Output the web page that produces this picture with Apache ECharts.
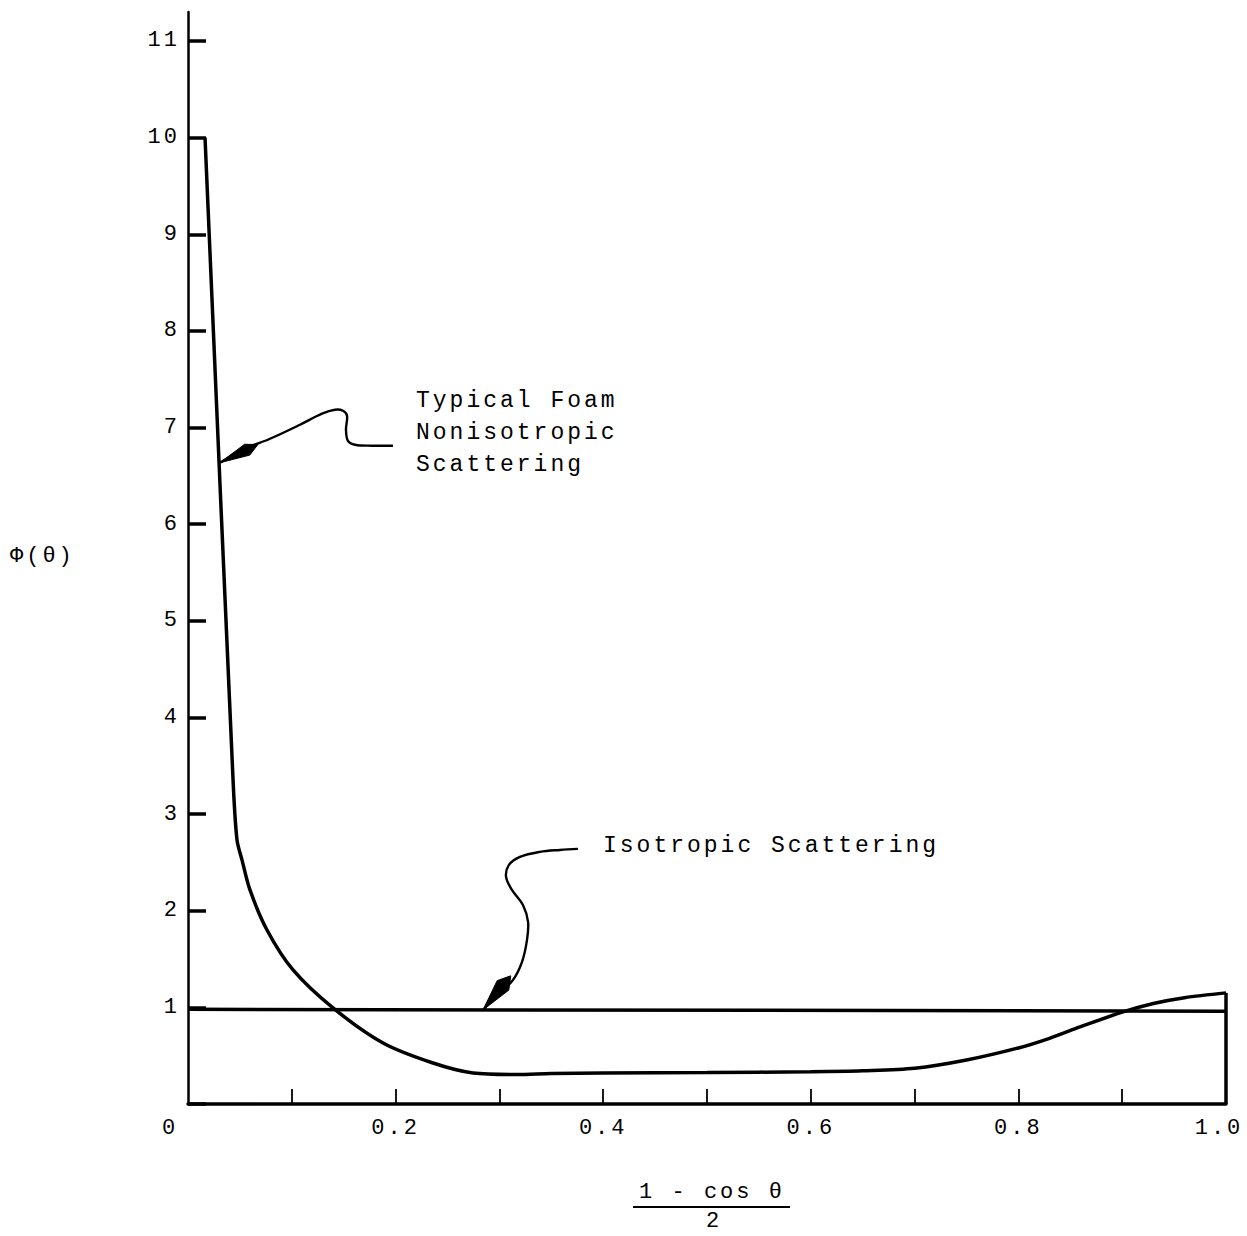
<!DOCTYPE html>
<html>
<head>
<meta charset="utf-8">
<title>Phase function: foam vs isotropic scattering</title>
<script src="https://cdn.jsdelivr.net/npm/echarts@6/dist/echarts.min.js"></script>
<style>
  html, body { margin: 0; padding: 0; background: #fff; }
  #chart { width: 1247px; height: 1236px; }
  /* typewriter-like spacing for all chart text */
  #chart text { letter-spacing: 3px; }
</style>
</head>
<body>
<div id="chart"></div>
<script>
// Typical foam (nonisotropic) phase function vs (1 - cos θ)/2
const xCurve = [0.0164, 0.0434, 0.0472, 0.0520, 0.0597, 0.0761, 0.1012, 0.1397, 0.1879, 0.2360,
                0.2746, 0.3170, 0.35, 0.40, 0.50, 0.60, 0.65, 0.70, 0.75, 0.80,
                0.83, 0.86, 0.90, 0.93, 0.96, 1.0];
const yCurve = [10.0, 3.354, 2.733, 2.526, 2.215, 1.801, 1.387, 0.994, 0.631, 0.424,
                0.321, 0.305, 0.315, 0.32, 0.325, 0.335, 0.345, 0.37, 0.455, 0.58,
                0.68, 0.80, 0.95, 1.04, 1.10, 1.15];

// Isotropic scattering line
const isoX = [0, 1];
const isoY = [0.98, 0.96];

// Closing edge of the foam curve at the right end of the range
const edgeX = [1.0, 1.0];
const edgeY = [0, 1.15];

// Axis ticks and labels
const yTicks = [0, 1, 2, 3, 4, 5, 6, 7, 8, 9, 10, 11];
const yLabels = [1, 2, 3, 4, 5, 6, 7, 8, 9, 10, 11];
const xTicks = [0.1, 0.2, 0.3, 0.4, 0.5, 0.6, 0.7, 0.8, 0.9];
const xLabels = [0, 0.2, 0.4, 0.6, 0.8, 1.0];

// Leader lines, listed from the arrow tip outwards (axis units)
const foamLeaderX = [0.0308, 0.0549, 0.0790, 0.1079, 0.1291, 0.1416, 0.1493, 0.1532, 0.1522, 0.1541, 0.1609, 0.1773, 0.1975];
const foamLeaderY = [6.636, 6.781, 6.884, 7.029, 7.143, 7.184, 7.174, 7.122, 6.977, 6.863, 6.822, 6.812, 6.812];
const isoLeaderX = [0.2842, 0.2977, 0.3131, 0.3218, 0.3266, 0.3276, 0.3227, 0.3121, 0.3064, 0.3092, 0.3198, 0.3391, 0.3584, 0.3757];
const isoLeaderY = [0.973, 1.128, 1.284, 1.470, 1.698, 1.884, 2.060, 2.215, 2.350, 2.474, 2.557, 2.609, 2.629, 2.640];

const leaders = [
  { x: foamLeaderX, y: foamLeaderY },
  { x: isoLeaderX, y: isoLeaderY }
];
// arrowhead shape (pixels) per leader
const heads = [
  { len: 42, half: 6 },
  { len: 44, half: 7.5 }
];

const FONT = '"Liberation Mono", "DejaVu Sans Mono", monospace';
const INK = '#000';

function zip(a, b) { return a.map((v, i) => [v, b[i]]); }

function renderLeader(params, api) {
  const L = leaders[params.dataIndex];
  const H = heads[params.dataIndex];
  const pts = L.x.map((x, i) => api.coord([x, L.y[i]]));
  const tip = pts[0];
  let ref = pts[pts.length - 1];
  for (let i = 1; i < pts.length; i++) {
    if (Math.hypot(pts[i][0] - tip[0], pts[i][1] - tip[1]) >= H.len) { ref = pts[i]; break; }
  }
  const d = Math.hypot(ref[0] - tip[0], ref[1] - tip[1]) || 1;
  const ux = (ref[0] - tip[0]) / d, uy = (ref[1] - tip[1]) / d;
  const nx = -uy, ny = ux;
  const m = 0.72 * H.len;
  const head = [
    tip,
    [tip[0] + ux * m + nx * H.half, tip[1] + uy * m + ny * H.half],
    [tip[0] + ux * H.len, tip[1] + uy * H.len],
    [tip[0] + ux * m - nx * H.half, tip[1] + uy * m - ny * H.half]
  ];
  return {
    type: 'group',
    children: [
      { type: 'polyline', shape: { points: pts, smooth: 0.35 },
        style: { stroke: INK, lineWidth: 2.4, fill: null } },
      { type: 'polygon', shape: { points: head },
        style: { fill: INK, stroke: INK, lineWidth: 1 } }
    ]
  };
}

const chart = echarts.init(document.getElementById('chart'), null, { renderer: 'svg' });

chart.setOption({
  backgroundColor: '#fff',
  animation: false,
  grid: { left: 188, right: 21, top: 12, bottom: 132, containLabel: false, outerBoundsMode: 'none' },
  xAxis: {
    type: 'value', min: 0, max: 1, interval: 0.1,
    axisLine: { show: true, lineStyle: { color: INK, width: 3.5 } },
    axisTick: { show: true, inside: true, length: 15, customValues: xTicks,
                lineStyle: { color: INK, width: 1.8 } },
    axisLabel: {
      customValues: xLabels, margin: 13, color: INK, fontFamily: FONT, fontSize: 22,
      formatter: v => (v === 0 ? '{z|0}' : v === 1 ? '{e|1.0}' : v.toFixed(1)),
      rich: {
        z: { padding: [0, 36, 0, 0], color: INK, fontFamily: FONT, fontSize: 22 },
        e: { padding: [0, 14, 0, 0], color: INK, fontFamily: FONT, fontSize: 22 }
      }
    },
    splitLine: { show: false }
  },
  yAxis: {
    type: 'value', min: 0, max: 11.3, interval: 1,
    axisLine: { show: true, lineStyle: { color: INK, width: 2.5 } },
    axisTick: { show: true, inside: true, length: 18, customValues: yTicks,
                lineStyle: { color: INK, width: 3.5 } },
    axisLabel: { customValues: yLabels, margin: 8, color: INK, fontFamily: FONT, fontSize: 22 },
    splitLine: { show: false }
  },
  series: [
    {
      name: 'Typical Foam Nonisotropic Scattering', type: 'line',
      data: zip(xCurve, yCurve), showSymbol: false, smooth: 0.3,
      lineStyle: { color: INK, width: 3.5 }, z: 3
    },
    {
      name: 'Foam curve edge', type: 'line', data: zip(edgeX, edgeY), showSymbol: false,
      lineStyle: { color: INK, width: 3.5 }, z: 3
    },
    {
      name: 'Isotropic Scattering', type: 'line', data: zip(isoX, isoY), showSymbol: false,
      lineStyle: { color: INK, width: 3.5 }, z: 3
    },
    {
      name: 'Leaders', type: 'custom', renderItem: renderLeader,
      data: leaders.map(L => [L.x[0], L.y[0]]), z: 4, silent: true
    }
  ],
  graphic: [
    { type: 'text', x: 416, y: 385,
      style: { text: 'Typical Foam\nNonisotropic\nScattering', font: '23px ' + FONT, lineHeight: 32,
               fill: INK, align: 'left', verticalAlign: 'top', textAlign: 'left', textVerticalAlign: 'top' } },
    { type: 'text', x: 603, y: 846,
      style: { text: 'Isotropic Scattering', font: '23px ' + FONT, fill: INK,
               align: 'left', verticalAlign: 'middle', textAlign: 'left', textVerticalAlign: 'middle' } },
    { type: 'text', x: 10, y: 556,
      style: { text: 'Φ(θ)', font: '22px ' + FONT, fill: INK,
               align: 'left', verticalAlign: 'middle', textAlign: 'left', textVerticalAlign: 'middle' } },
    { type: 'text', x: 712, y: 1192,
      style: { text: '1 - cos θ', font: '22px ' + FONT, fill: INK,
               align: 'center', verticalAlign: 'middle', textAlign: 'center', textVerticalAlign: 'middle' } },
    { type: 'line', shape: { x1: 633, y1: 1207, x2: 790, y2: 1207 },
      style: { stroke: INK, lineWidth: 2 } },
    { type: 'text', x: 714, y: 1221,
      style: { text: '2', font: '22px ' + FONT, fill: INK,
               align: 'center', verticalAlign: 'middle', textAlign: 'center', textVerticalAlign: 'middle' } }
  ]
});
</script>
</body>
</html>
